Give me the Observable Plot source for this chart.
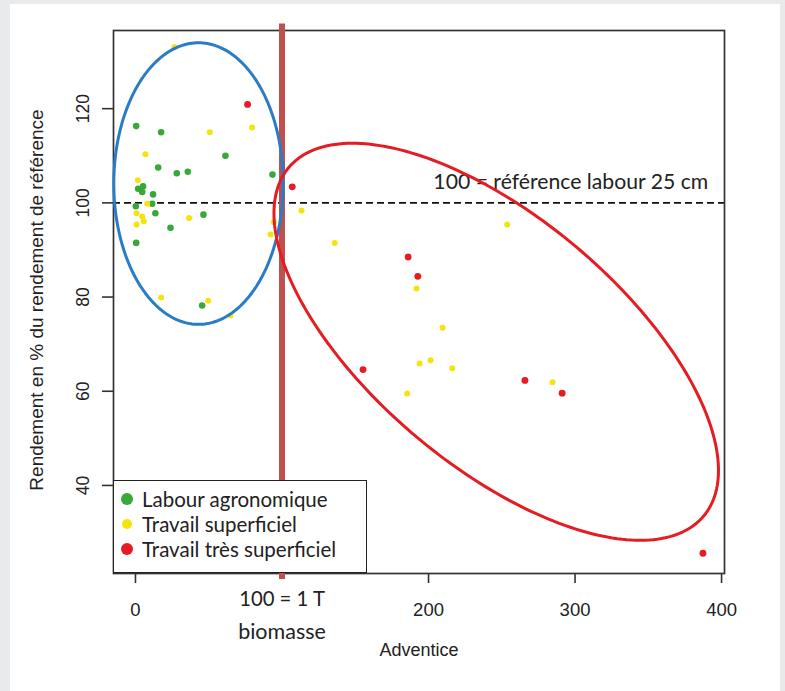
<!DOCTYPE html>
<html><head><meta charset="utf-8">
<script src="https://cdn.jsdelivr.net/npm/d3@7"></script>
<script src="https://cdn.jsdelivr.net/npm/@observablehq/plot@0.6"></script>
<style>
body{margin:0;background:#e9eaec;width:785px;height:691px;overflow:hidden;position:relative}
#panel{position:absolute;left:10px;top:4px;width:770px;height:687px;background:#fff}
#chart{position:absolute;left:0;top:0}
#legend{position:absolute;left:113px;top:480px;width:252px;height:91px;border:1.6px solid #222;background:#fff;font-family:Lato;font-size:20.5px;color:#222}
#legend .row{position:absolute;left:0;height:24px;line-height:24px;white-space:nowrap}
#legend .dot{position:absolute;border-radius:50%}
#legend .lab{position:absolute;left:28px;top:0}
</style></head>
<body>
<div id="panel"></div>
<div id="chart"></div>
<div id="legend"></div>
<script>
// ---- data ----
const labourX = [0.5, 17.5, 61.4, 15.5, 28.2, 35.7, 93.5, 1.8, 5.2, 4.6, 12, 11.4, 0.2, 13.6, 46.4, 23.9, 0.5, 45.5];
const labourY = [116.3, 115.0, 110.0, 107.5, 106.3, 106.6, 106.0, 103.0, 103.5, 102.3, 101.8, 99.8, 99.3, 97.8, 97.5, 94.7, 91.5, 78.2];
const superX = [26.6, 50.7, 79.6, 6.8, 1.6, 8, 0.7, 4.6, 5.7, 0.7, 36.6, 94.4, 92.2, 17.5, 49.6, 64.8, 113.3, 136, 191.8, 209.6, 193.9, 201.4, 216.2, 185.4, 253.7, 284.6];
const superY = [133.1, 115.0, 116.0, 110.3, 104.8, 99.8, 97.8, 97.1, 96.1, 95.4, 96.8, 95.9, 93.3, 79.9, 79.2, 76.1, 98.4, 91.5, 81.8, 73.5, 65.9, 66.6, 64.9, 59.5, 95.4, 61.9];
const tresX = [76.5, 107, 186.1, 192.7, 155.3, 265.8, 291.2, 387.3];
const tresY = [120.9, 103.4, 88.5, 84.4, 64.6, 62.3, 59.6, 25.6];

const groups = ["Labour agronomique", "Travail superficiel", "Travail très superficiel"];
const groupColors = ["#38a838", "#f4e40c", "#e51c23"];
const groupRadius = [5, 4.2, 5.5];

const xTicks = [0, 200, 300, 400];
const yTicks = [40, 60, 80, 100, 120];
const xTitle = "Adventice";
const yTitle = "Rendement en % du rendement de référence";
const refValue = 100;
const refText = "100 = référence labour 25 cm";
const biomValue = 100;
const biomText1 = "100 = 1 T";
const biomText2 = "biomasse";

// annotation ellipses (data units): center, axis vectors
const blueEllipse = {cx: 43.0, cy: 104.1, ux: 57.8, uy: 0, vx: 0, vy: 29.9};
const redEllipse = {cx: 246.2, cy: 70.5, ux: 141.6, uy: -37.0, vx: -54.4, vy: -20.2};

// ---- build tables ----
const pts = [];
[[labourX, labourY], [superX, superY], [tresX, tresY]].forEach(([xs, ys], g) => {
  xs.forEach((x, i) => pts.push({x, y: ys[i], g}));
});
function outline(e, id) {
  const out = [];
  for (let k = 0; k <= 240; k++) {
    const t = (k / 240) * 2 * Math.PI;
    out.push({id, x: e.cx + e.ux * Math.cos(t) + e.vx * Math.sin(t), y: e.cy + e.uy * Math.cos(t) + e.vy * Math.sin(t)});
  }
  return out;
}
const blueLine = outline(blueEllipse, "b");
const redLine = outline(redEllipse, "r");

const rFont = "'Liberation Sans', Arial, sans-serif";
const cFont = "Lato, sans-serif";

const chart = Plot.plot({
  width: 785, height: 691,
  marginLeft: 113, marginRight: 61, marginTop: 30, marginBottom: 118,
  x: {domain: [-15, 402], axis: null},
  y: {domain: [21.3, 136.6], axis: null},
  style: {background: "transparent", overflow: "visible"},
  marks: [
    Plot.ruleY([refValue], {stroke: "#111", strokeWidth: 1.8, strokeDasharray: "7,4"}),
    Plot.dot(pts, {x: "x", y: "y", r: d => groupRadius[d.g], fill: d => groupColors[d.g], stroke: "none"}),
    Plot.frame({stroke: "#333", strokeWidth: 1.7}),
    Plot.axisX({ticks: xTicks, tickSize: 10, tickPadding: 19, fontSize: 18.5, fontFamily: rFont, fill: "#222", stroke: "#333", strokeWidth: 1.6, label: null}),
    Plot.axisY({ticks: yTicks, tickSize: 11, tickFormat: () => "", stroke: "#333", strokeWidth: 1.6, label: null}),
    Plot.text(yTicks, {y: d => d, text: d => String(d), frameAnchor: "left", textAnchor: "middle", dx: -30, rotate: -90, fontSize: 17.5, fontFamily: rFont, fill: "#222"}),
    Plot.text([yTitle], {frameAnchor: "left", textAnchor: "middle", dx: -77, dy: -2, rotate: -90, fontSize: 19, fontFamily: rFont, fill: "#222"}),
    Plot.text([xTitle], {frameAnchor: "bottom", dy: 82, fontSize: 18, fontFamily: rFont, fill: "#222"}),
    Plot.text([refText], {x: 203.3, y: 104.4, textAnchor: "start", fontSize: 21.2, fontFamily: cFont, fill: "#222"}),
    Plot.text([biomText1], {x: biomValue, frameAnchor: "bottom", dy: 32, fontSize: 20.3, fontFamily: cFont, fill: "#222"}),
    Plot.text([biomText2], {x: biomValue, frameAnchor: "bottom", dy: 65, fontSize: 21.5, fontFamily: cFont, fill: "#222"}),
    Plot.ruleX([biomValue], {y1: 138, y2: 20, stroke: "#c0504d", strokeWidth: 6}),
    Plot.line(blueLine, {x: "x", y: "y", z: "id", stroke: "#2a7cc6", strokeWidth: 3}),
    Plot.line(redLine, {x: "x", y: "y", z: "id", stroke: "#e51c23", strokeWidth: 3})
  ]
});
document.getElementById("chart").appendChild(chart);

// legend
const leg = document.getElementById("legend");
const rowTops = [6, 31, 56];
groups.forEach((name, i) => {
  const row = document.createElement("div");
  row.className = "row";
  row.style.top = rowTops[i] + "px";
  row.style.width = "250px";
  const d = document.createElement("span");
  d.className = "dot";
  const r = [5.8, 5, 6][i];
  d.style.width = d.style.height = (2 * r) + "px";
  d.style.left = (13 - r) + "px";
  d.style.top = (12 - r) + "px";
  d.style.background = groupColors[i];
  const t = document.createElement("span");
  t.className = "lab";
  t.textContent = name;
  row.appendChild(d); row.appendChild(t);
  leg.appendChild(row);
});
</script>
</body></html>
